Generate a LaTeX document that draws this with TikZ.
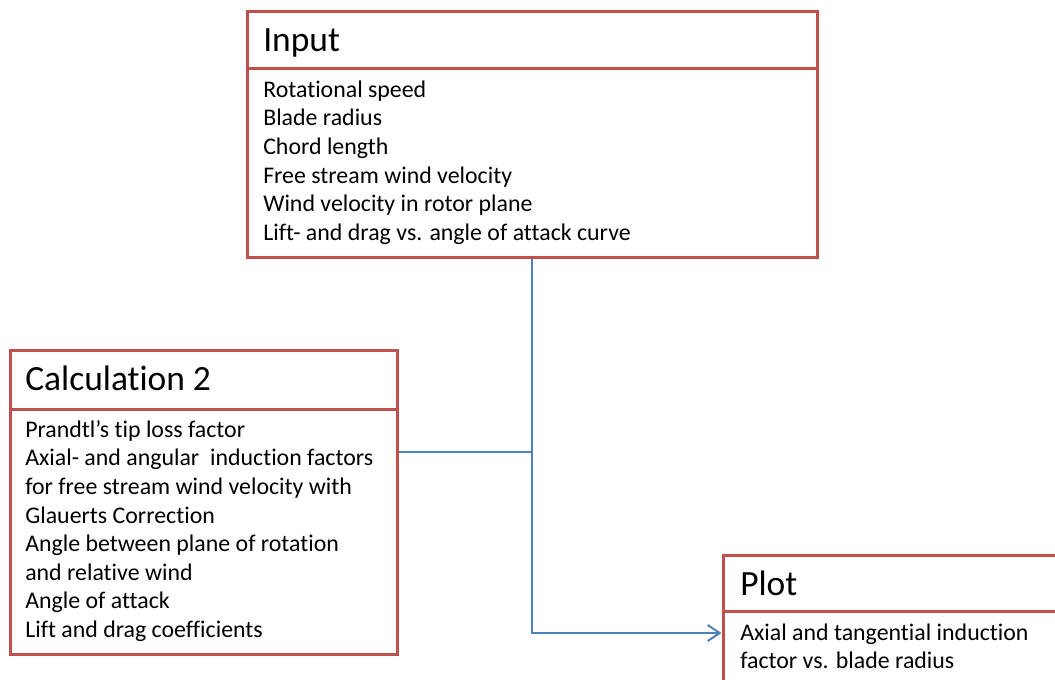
\documentclass[tikz,border=0pt]{standalone}
\usepackage{fontspec}
\setmainfont[Ligatures=NoCommon]{Carlito}
\usetikzlibrary{arrows.meta}
\definecolor{boxred}{HTML}{C0504D}
\definecolor{linkblue}{HTML}{4F81BD}
\begin{document}
\begin{tikzpicture}[x=0.75pt,y=-0.75pt,
  panel/.style={draw=boxred, line width=2.25pt, rectangle, inner sep=0pt, fill=white},
  divider/.style={draw=boxred, line width=2.25pt},
  heading/.style={anchor=base west, inner sep=0pt, font=\fontsize{26.6}{32}\selectfont},
  listing/.style={anchor=north west, inner sep=0pt, align=left, font=\fontsize{17.9}{21.45}\selectfont},
  link/.style={draw=linkblue, line width=2.2pt},
  linkarrow/.style={link, -{Straight Barb[length=9pt,width=12pt,line width=1.5pt]}}]
\useasboundingbox (0,0) rectangle (1055,679);
\clip (0,0) rectangle (1055,679);

% Input box
\node[panel, minimum width=427.5pt, minimum height=184.5pt] (input) at (532,134) {};
\draw[divider] (input.west |- 0,68) -- (input.east |- 0,68);
\node[heading] (inputTitle) at (263,51) {Input};
\node[listing] (inputBody) at (263,77) {\strut Rotational speed\\
  Blade radius\\
  Chord length\\
  Free stream wind velocity\\
  Wind velocity in rotor plane\\
  Lift- and drag vs. angle of attack curve};

% Calculation 2 box
\node[panel, minimum width=290.25pt, minimum height=228pt] (calc) at (203.5,502) {};
\draw[divider] (calc.west |- 0,409) -- (calc.east |- 0,409);
\node[heading] (calcTitle) at (25,390) {Calculation 2};
\node[listing] (calcBody) at (25,417) {\strut Prandtl’s tip loss factor\\
  Axial- and angular\ \ induction factors\\
  for free stream wind velocity with\\
  Glauerts Correction\\
  Angle between plane of rotation\\
  and relative wind\\
  Angle of attack\\
  Lift and drag coefficients};

% Plot box (runs past the right and bottom edges)
\node[panel, minimum width=260.25pt, minimum height=123.75pt] (plot) at (896.5,637.5) {};
\draw[divider] (plot.west |- 0,611) -- (plot.east |- 0,611);
\node[heading] (plotTitle) at (740,595) {Plot};
\node[listing] (plotBody) at (740,620) {\strut Axial and tangential induction\\
  factor vs. blade radius};

% Connectors
\coordinate (junction) at (532,452);
\coordinate (plotIn) at (plot.west |- 0,633);
\draw[link] (calc.east |- junction) -- (junction);
\draw[linkarrow] (input.south) |- (plotIn);
\end{tikzpicture}
\end{document}
